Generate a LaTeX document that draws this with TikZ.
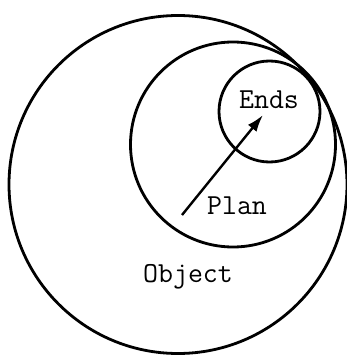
\documentclass[tikz,border=0pt]{standalone}
\usepackage{tikz}
\usetikzlibrary{arrows.meta}

\tikzset{
  ring/.style={circle, draw, line width=2.8pt, inner sep=0pt},
  tag/.style={font=\fontsize{29}{29}\selectfont\ttfamily, inner sep=0pt}
}

\begin{document}
\begin{tikzpicture}[x=1pt,y=-1pt]
\useasboundingbox (0,0) rectangle (347,358);
% three nested circles
\node[ring, minimum size=338] (object) at (178,184.5) {};
\node[ring, minimum size=205] (plan) at (233,144.5) {};
\node[ring, minimum size=101] (ends) at (269.5,111.5) {};
% labels
\node[tag] (endslabel) at (269,100) {Ends};
\node[tag] (planlabel) at (237,206) {Plan};
\node[tag] (objectlabel) at (188,277) {Object};
% arrow from plan into ends
\coordinate (tail) at (182,215);
\coordinate (tip) at (263,115);
\draw[line width=2.4pt,-{Latex[length=17pt,width=11pt]}] (tail) -- (tip);
\end{tikzpicture}
\end{document}
